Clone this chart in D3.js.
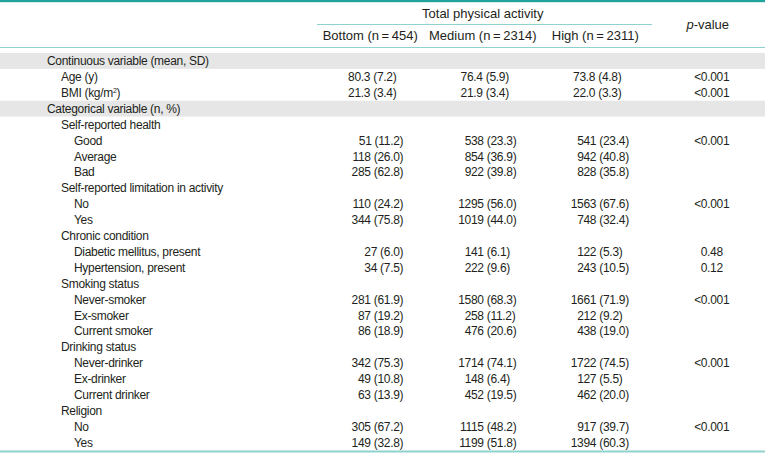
<!DOCTYPE html>
<html>
<head>
<meta charset="utf-8">
<script src="https://cdn.jsdelivr.net/npm/d3@7"></script>
<style>
  html, body { margin: 0; padding: 0; background: #ffffff; }
  svg { display: block; }
  text { font-family: "Liberation Sans", Arial, Helvetica, sans-serif; fill: #231f20; }
  text.body { letter-spacing: -0.3px; }
</style>
</head>
<body>
<svg id="chart" width="765" height="453"></svg>
<script>
// ---------- DATA ----------
const groupTitle = "Total physical activity";
const columnHeaders = ["Bottom (n\u2009=\u2009454)", "Medium (n\u2009=\u20092314)", "High (n\u2009=\u20092311)", "p-value"];

const rowLabels = [
  "Continuous variable (mean, SD)", "Age (y)", "BMI (kg/m²)",
  "Categorical variable (n, %)",
  "Self-reported health", "Good", "Average", "Bad",
  "Self-reported limitation in activity", "No", "Yes",
  "Chronic condition", "Diabetic mellitus, present", "Hypertension, present",
  "Smoking status", "Never-smoker", "Ex-smoker", "Current smoker",
  "Drinking status", "Never-drinker", "Ex-drinker", "Current drinker",
  "Religion", "No", "Yes"
];
const rowLevels = [0,1,1, 0, 1,2,2,2, 1,2,2, 1,2,2, 1,2,2,2, 1,2,2,2, 1,2,2];
const shadedRows = [0, 3];
const meanRows = [1, 2];

const bottomValue = [null, 80.3, 21.3, null, null, 51, 118, 285, null, 110, 344, null, 27, 34, null, 281, 87, 86, null, 342, 49, 63, null, 305, 149];
const bottomPct   = [null, 7.2, 3.4, null, null, 11.2, 26.0, 62.8, null, 24.2, 75.8, null, 6.0, 7.5, null, 61.9, 19.2, 18.9, null, 75.3, 10.8, 13.9, null, 67.2, 32.8];
const mediumValue = [null, 76.4, 21.9, null, null, 538, 854, 922, null, 1295, 1019, null, 141, 222, null, 1580, 258, 476, null, 1714, 148, 452, null, 1115, 1199];
const mediumPct   = [null, 5.9, 3.4, null, null, 23.3, 36.9, 39.8, null, 56.0, 44.0, null, 6.1, 9.6, null, 68.3, 11.2, 20.6, null, 74.1, 6.4, 19.5, null, 48.2, 51.8];
const highValue   = [null, 73.8, 22.0, null, null, 541, 942, 828, null, 1563, 748, null, 122, 243, null, 1661, 212, 438, null, 1722, 127, 462, null, 917, 1394];
const highPct     = [null, 4.8, 3.3, null, null, 23.4, 40.8, 35.8, null, 67.6, 32.4, null, 5.3, 10.5, null, 71.9, 9.2, 19.0, null, 74.5, 5.5, 20.0, null, 39.7, 60.3];
const pValues     = ["", "<0.001", "<0.001", "", "", "<0.001", "", "", "", "<0.001", "", "", "0.48", "0.12", "", "<0.001", "", "", "", "<0.001", "", "", "", "<0.001", ""];

// ---------- LAYOUT ----------
const W = 765, H = 453;
const FS = 12, FSH = 13;
const svg = d3.select("#chart");
svg.append("rect").attr("width", W).attr("height", H).attr("fill", "#ffffff");

const rowIdx = d3.range(rowLabels.length);
const y = d3.scaleBand().domain(rowIdx).range([53, 53 + 15.9 * rowLabels.length]).padding(0);
const x = d3.scaleBand().domain(columnHeaders).range([314, 764]).padding(0);
const colCenter = c => x(c) + x.bandwidth() / 2;
const indent = d3.scaleOrdinal().domain([0, 1, 2]).range([47, 61, 74]);

const teal = "#1fa39d", tealLight = "#8fd1cc";

// shaded bands
svg.selectAll("rect.band").data(shadedRows).join("rect")
  .attr("class", "band")
  .attr("x", 0).attr("width", W)
  .attr("y", d => y(d)).attr("height", y.bandwidth())
  .attr("fill", "#e6e6e6");

// rules
svg.append("rect").attr("x", 0).attr("y", 0).attr("width", W).attr("height", 2.2).attr("fill", teal);
svg.append("line").attr("x1", 317).attr("x2", 652).attr("y1", 24.5).attr("y2", 24.5)
  .attr("stroke", tealLight).attr("stroke-width", 1.2);
svg.append("line").attr("x1", 0).attr("x2", W).attr("y1", 47.5).attr("y2", 47.5)
  .attr("stroke", tealLight).attr("stroke-width", 1.2);
svg.append("line").attr("x1", 0).attr("x2", W).attr("y1", 451.5).attr("y2", 451.5)
  .attr("stroke", tealLight).attr("stroke-width", 1.8);

// header
svg.append("text").attr("x", colCenter(columnHeaders[1])).attr("y", 13).attr("dy", "0.35em")
  .attr("text-anchor", "middle").attr("font-size", FSH).text(groupTitle);
svg.selectAll("text.colh").data(columnHeaders.slice(0, 3)).join("text")
  .attr("class", "colh")
  .attr("x", d => colCenter(d)).attr("y", 35).attr("dy", "0.35em")
  .attr("text-anchor", "middle").attr("font-size", FSH).text(d => d);
const pv = svg.append("text").attr("x", colCenter(columnHeaders[3])).attr("y", 24).attr("dy", "0.35em")
  .attr("text-anchor", "middle").attr("font-size", FSH);
pv.append("tspan").attr("font-style", "italic").text("p");
pv.append("tspan").text("-value");

// row labels
const labels = svg.selectAll("text.lab").data(rowIdx).join("text")
  .attr("class", "lab body")
  .attr("x", i => indent(rowLevels[i]))
  .attr("y", i => y(i) + y.bandwidth() / 2).attr("dy", "0.35em")
  .attr("font-size", FS);
labels.each(function(i) {
  const t = d3.select(this);
  const lab = rowLabels[i];
  if (lab.includes("²")) {
    const parts = lab.split("²");
    t.append("tspan").text(parts[0]);
    t.append("tspan").attr("font-size", 7).attr("dy", "-0.55em").text("2");
    t.append("tspan").attr("dy", "0.3em").text(parts[1]);
  } else {
    t.text(lab);
  }
});

// value columns
const cols = [
  { key: columnHeaders[0], v: bottomValue, p: bottomPct, mode: "right", off: 33 },
  { key: columnHeaders[1], v: mediumValue, p: mediumPct, mode: "paren", off: 1 },
  { key: columnHeaders[2], v: highValue, p: highPct, mode: "paren", off: 1 }
];
const fmt1 = d3.format(".1f");
cols.forEach(c => {
  const cx = colCenter(c.key);
  rowIdx.filter(i => c.v[i] !== null).forEach(i => {
    const yy = y(i) + y.bandwidth() / 2;
    if (meanRows.includes(i)) {
      svg.append("text").attr("class", "body").attr("x", cx + 2).attr("y", yy).attr("dy", "0.35em")
        .attr("text-anchor", "middle").attr("font-size", FS)
        .text(`${fmt1(c.v[i])} (${fmt1(c.p[i])})`);
    } else if (c.mode === "right") {
      svg.append("text").attr("class", "body").attr("x", cx + c.off).attr("y", yy).attr("dy", "0.35em")
        .attr("text-anchor", "end").attr("font-size", FS)
        .text(`${c.v[i]} (${fmt1(c.p[i])})`);
    } else {
      svg.append("text").attr("class", "body").attr("x", cx + c.off).attr("y", yy).attr("dy", "0.35em")
        .attr("text-anchor", "end").attr("font-size", FS).text(c.v[i]);
      svg.append("text").attr("class", "body").attr("x", cx + c.off).attr("y", yy).attr("dy", "0.35em")
        .attr("text-anchor", "start").attr("font-size", FS).text(`\u00a0(${fmt1(c.p[i])})`);
    }
  });
});

// p-values
svg.selectAll("text.pv").data(rowIdx.filter(i => pValues[i] !== "")).join("text")
  .attr("class", "pv body")
  .attr("x", colCenter(columnHeaders[3]) + 4)
  .attr("y", i => y(i) + y.bandwidth() / 2).attr("dy", "0.35em")
  .attr("text-anchor", "middle").attr("font-size", FS)
  .text(i => pValues[i]);
</script>
</body>
</html>
